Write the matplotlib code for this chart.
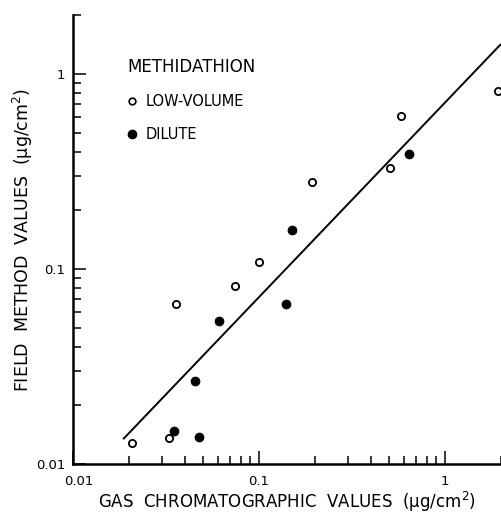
import matplotlib
matplotlib.use("Agg")
import matplotlib.pyplot as plt
import matplotlib.transforms as mtransforms
from matplotlib.lines import Line2D
from matplotlib.ticker import FixedLocator, FixedFormatter, NullFormatter

plt.rcParams["font.family"] = ["DejaVu Sans"]

# low-volume (open circles)
lowvol_gc = [0.0208, 0.0328, 0.0358, 0.0746, 0.1004, 0.192, 0.508, 0.580, 1.935]
lowvol_field = [0.0128, 0.0136, 0.0661, 0.0818, 0.109, 0.279, 0.328, 0.611, 0.821]

# dilute (filled circles)
dilute_gc = [0.0349, 0.0478, 0.0453, 0.0607, 0.1402, 0.151, 0.641]
dilute_field = [0.0148, 0.0138, 0.0267, 0.0543, 0.0661, 0.1585, 0.388]

# regression line end points
fit_x = [0.0186, 2.0]
fit_y = [0.0134, 1.425]

major_ticks = [0.01, 0.1, 1]
major_labels = ["0.01", "0.1", "1"]
minor_ticks = [m * d for d in (0.01, 0.1, 1) for m in range(2, 10)]

fig = plt.figure(figsize=(5.01, 5.13), dpi=100)
ax = fig.add_axes([73 / 501, 49 / 513, 428 / 501, 448.7 / 513])

ax.plot(fit_x, fit_y, color="black", lw=1.4, solid_capstyle="butt")
ax.plot(lowvol_gc, lowvol_field, "o", ms=5.2, mfc="white", mec="black", mew=1.3)
ax.plot(dilute_gc, dilute_field, "o", ms=6.5, mfc="black", mec="black", mew=0.5)

ax.set_xscale("log")
ax.set_yscale("log")
ax.set_xlim(0.01, 2.0)
ax.set_ylim(0.01, 2.0)

for axis in (ax.xaxis, ax.yaxis):
    axis.set_major_locator(FixedLocator(major_ticks))
    axis.set_major_formatter(FixedFormatter(major_labels))
    axis.set_minor_locator(FixedLocator(minor_ticks))
    axis.set_minor_formatter(NullFormatter())

ax.tick_params(which="major", direction="in", length=9.5, width=1.1, labelsize=9.5)
ax.tick_params(which="minor", direction="in", length=5.8, width=1.1)
ax.tick_params(axis="x", which="major", pad=8)
ax.tick_params(axis="y", which="major", pad=5.5)

for side in ("top", "right"):
    ax.spines[side].set_visible(False)
for side in ("left", "bottom"):
    ax.spines[side].set_linewidth(1.8)

ax.set_xlabel("GAS  CHROMATOGRAPHIC  VALUES  (μg/cm$^2$)", fontsize=12, labelpad=1.5)
ax.set_ylabel("FIELD  METHOD  VALUES  (μg/cm$^2$)", fontsize=12.5, labelpad=1)

handles = [
    Line2D([], [], ls="none", marker="o", ms=4.8, mfc="white", mec="black", mew=1.2),
    Line2D([], [], ls="none", marker="o", ms=6.0, mfc="black", mec="black"),
]
leg = ax.legend(handles, ["LOW-VOLUME", "DILUTE"], title="METHIDATHION",
                loc="upper left", bbox_to_anchor=(0.126, 0.905), frameon=False,
                fontsize=10.5, title_fontsize=12, alignment="left",
                handlelength=0.7, handletextpad=0.55, labelspacing=1.25,
                borderpad=0, borderaxespad=0)

# the corner "0.01" on the x axis sits a little right of the spine
fig.canvas.draw()
first = ax.xaxis.get_major_ticks()[0].label1
first.set_transform(first.get_transform()
                    + mtransforms.ScaledTranslation(6 / 100, 0, fig.dpi_scale_trans))

fig.savefig("out.png", dpi=100)
